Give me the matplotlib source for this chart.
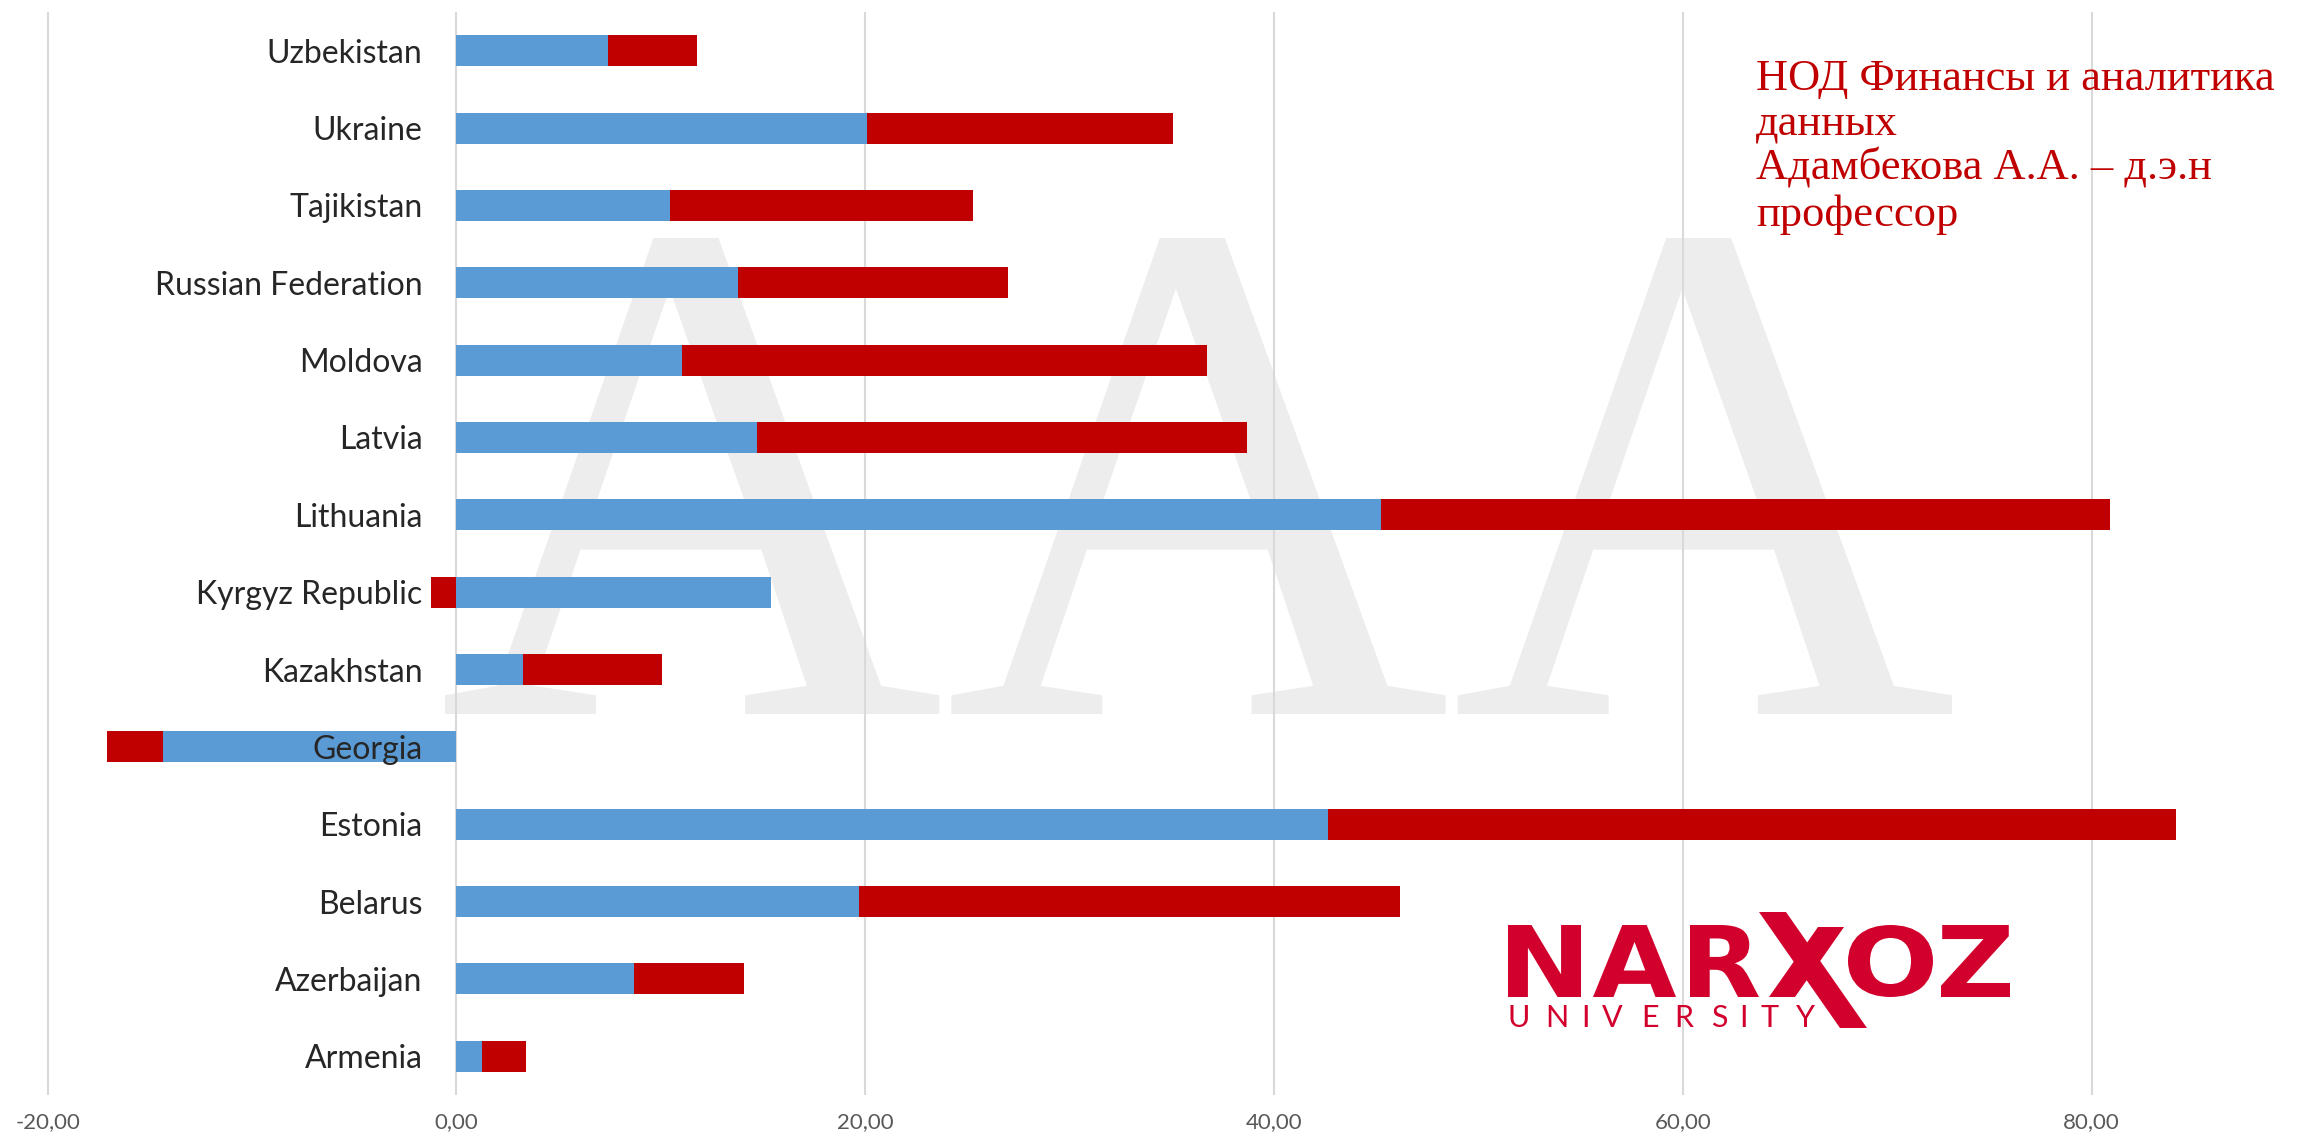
import numpy as np
import matplotlib
matplotlib.use('Agg')
import matplotlib.pyplot as plt
from matplotlib.textpath import TextPath
from matplotlib.patches import PathPatch, Polygon
from matplotlib.font_manager import FontProperties
from matplotlib.transforms import Affine2D
from matplotlib.ticker import FuncFormatter

# ---------------- data ----------------
countries = ['Armenia', 'Azerbaijan', 'Belarus', 'Estonia', 'Georgia', 'Kazakhstan',
             'Kyrgyz Republic', 'Lithuania', 'Latvia', 'Moldova', 'Russian Federation',
             'Tajikistan', 'Ukraine', 'Uzbekistan']
series_blue = [1.23, 8.66, 19.70, 42.64, -14.36, 3.25, 15.37, 45.24, 14.72, 11.04, 13.78, 10.46, 20.06, 7.43]
series_red = [2.16, 5.41, 26.48, 41.49, -2.74, 6.78, -1.25, 35.64, 23.95, 25.68, 13.20, 14.79, 15.00, 4.33]
x_ticks = [-20, 0, 20, 40, 60, 80]
note_lines = ["НОД Финансы и аналитика", "данных", "Адамбекова А.А. – д.э.н", "профессор"]
logo_word = "NARXOZ"
logo_sub = "UNIVERSITY"

# ---------------- style ----------------
plt.rcParams['font.family'] = ['Lato', 'DejaVu Sans']
BLUE = '#5B9BD5'
RED = '#C00000'
LOGO = '#D1002C'

W, H = 2312, 1137
DPI = 100
fig = plt.figure(figsize=(W / DPI, H / DPI), dpi=DPI, facecolor='white')
AX_TOP, AX_BOT = 12, 1095
ax = fig.add_axes([0, 1 - AX_BOT / H, 1, (AX_BOT - AX_TOP) / H])


def fx(x):
    return x / W


def fy(y):
    return 1 - y / H


def place_path(path, box, **kw):
    x0, y0, x1, y1 = box
    ext = path.get_extents()
    tr = (Affine2D().translate(-ext.x0, -ext.y0)
          .scale((x1 - x0) / W / ext.width, (y1 - y0) / H / ext.height)
          .translate(fx(x0), fy(y1)) + fig.transFigure)
    return PathPatch(path, transform=tr, **kw)


# watermark
wm_path = TextPath((0, 0), "AAA", size=100, prop=FontProperties(family='Liberation Serif'))
wm = place_path(wm_path, (445, 238, 1952, 714), facecolor='#EDEDED', edgecolor='none',
                zorder=0.2, clip_on=False)
ax.add_artist(wm)

# bars
n = len(countries)
y = np.arange(n)
blue = np.array(series_blue)
red = np.array(series_red)
left_red = np.where(np.sign(red) == np.sign(blue), blue, 0.0)
ax.barh(y, blue, height=0.4, color=BLUE, zorder=2)
ax.barh(y, red, left=left_red, height=0.4, color=RED, zorder=2)

# category labels next to the zero line
for i, c in enumerate(countries):
    ax.annotate(c, xy=(0, i), xycoords='data', xytext=(-34, 0), textcoords='offset pixels',
                ha='right', va='center_baseline', fontsize=23, color='#262626', zorder=5)

PX_PER_UNIT = 20.44
ZERO_PX = 456.5
ax.set_xlim(-ZERO_PX / PX_PER_UNIT, (W - ZERO_PX) / PX_PER_UNIT)
ax.set_ylim(-0.5, n - 0.5)
ax.set_xticks(x_ticks)
ax.xaxis.set_major_formatter(FuncFormatter(lambda v, p: f"{v:.2f}".replace('.', ',')))
ax.set_yticks([])
ax.grid(axis='x', color='#D9D9D9', linewidth=1.5)
ax.set_axisbelow(True)
for s in ax.spines.values():
    s.set_visible(False)
ax.tick_params(axis='x', length=0, labelsize=16, labelcolor='#595959', pad=12)

# note text (top right)
for line, base in zip(note_lines, [90, 135, 180, 226]):
    fig.text(fx(1756), fy(base), line, family='Liberation Serif', fontsize=32,
             color=RED, ha='left', va='baseline', zorder=10)

# logo
letter_boxes = {
    'N': (1508, 925, 1581, 997),
    'A': (1593, 925, 1676, 997),
    'R': (1690, 925, 1759, 997),
    'O': (1848, 925, 1933, 997),
    'Z': (1941, 925, 2010, 997),
}
bold = FontProperties(family='DejaVu Sans', weight='bold')
for ch in logo_word:
    if ch in letter_boxes:
        p = TextPath((0, 0), ch, size=100, prop=bold)
        fig.add_artist(place_path(p, letter_boxes[ch], facecolor=LOGO, edgecolor='none', zorder=10))
x_strokes = [
    [(1759, 912), (1786, 912), (1867, 1028), (1840, 1028)],
    [(1818, 927), (1844, 927), (1795, 997), (1769, 997)],
]
for poly in x_strokes:
    fig.add_artist(Polygon([(fx(a), fy(b)) for a, b in poly], closed=True,
                           transform=fig.transFigure, facecolor=LOGO, edgecolor='none', zorder=10))
sub_centers = [1519, 1557, 1585, 1612, 1650, 1684, 1719, 1744, 1770, 1805]
for ch, cx in zip(logo_sub, sub_centers):
    fig.text(fx(cx), fy(1027), ch, fontsize=22, color=LOGO, ha='center', va='baseline',
             fontweight='normal', zorder=10)

fig.savefig('out.png', dpi=DPI, facecolor='white')
